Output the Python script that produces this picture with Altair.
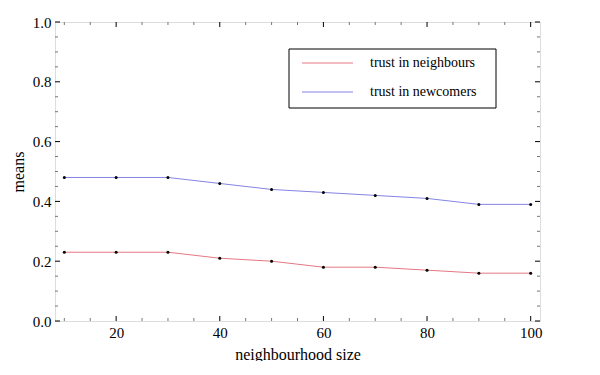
import altair as alt
import pandas as pd

# ---- data ----
sizes = [10, 20, 30, 40, 50, 60, 70, 80, 90, 100]
neighbours = [0.23, 0.23, 0.23, 0.21, 0.20, 0.18, 0.18, 0.17, 0.16, 0.16]
newcomers = [0.48, 0.48, 0.48, 0.46, 0.44, 0.43, 0.42, 0.41, 0.39, 0.39]
series_names = ["trust in neighbours", "trust in newcomers"]
series_colors = ["#e47884", "#8484e4"]

x_major = [20, 40, 60, 80, 100]
x_minor = [10, 15, 25, 30, 35, 45, 50, 55, 65, 70, 75, 85, 90, 95]
y_major = [0.0, 0.2, 0.4, 0.6, 0.8, 1.0]
y_minor = [0.05, 0.1, 0.15, 0.25, 0.3, 0.35, 0.45, 0.5, 0.55,
           0.65, 0.7, 0.75, 0.85, 0.9, 0.95]
x_domain = [8.2, 101.8]
y_domain = [0.0, 1.0]

FONT = "Liberation Serif"
W, H = 485, 299

df = pd.DataFrame({
    "size": sizes * 2,
    "value": neighbours + newcomers,
    "series": [series_names[0]] * len(sizes) + [series_names[1]] * len(sizes),
})

xs = alt.Scale(domain=x_domain, nice=False, zero=False)
ys = alt.Scale(domain=y_domain, nice=False, zero=False)

x_axis = alt.Axis(values=x_major, ticks=False, domain=False, grid=False,
                  labelFont=FONT, labelFontSize=15, labelColor="black",
                  labelPadding=4, title="neighbourhood size", titleFont=FONT,
                  titleFontSize=16, titleFontWeight="normal", titleColor="black",
                  titlePadding=6)
y_axis = alt.Axis(values=y_major, format=".1f", ticks=False, domain=False, grid=False,
                  labelFont=FONT, labelFontSize=15, labelColor="black",
                  labelPadding=4, title="means", titleFont=FONT,
                  titleFontSize=16, titleFontWeight="normal", titleColor="black",
                  titlePadding=6)

lines = alt.Chart(df).mark_line(strokeWidth=1).encode(
    x=alt.X("size:Q", scale=xs, axis=x_axis),
    y=alt.Y("value:Q", scale=ys, axis=y_axis),
    color=alt.Color("series:N", scale=alt.Scale(domain=series_names, range=series_colors), legend=None),
    detail="series:N",
)
points = alt.Chart(df).mark_circle(size=9, color="black", opacity=1).encode(
    x=alt.X("size:Q", scale=xs, axis=x_axis),
    y=alt.Y("value:Q", scale=ys, axis=y_axis),
)

layers = [lines, points]

def xticks(vals, length, color):
    d = pd.DataFrame({"size": vals})
    bottom = alt.Chart(d).mark_rule(color=color, strokeWidth=1).encode(
        x=alt.X("size:Q", scale=xs, axis=x_axis), y=alt.value(H), y2=alt.value(H - length))
    top = alt.Chart(d).mark_rule(color=color, strokeWidth=1).encode(
        x=alt.X("size:Q", scale=xs, axis=x_axis), y=alt.value(0), y2=alt.value(length))
    return [bottom, top]

def yticks(vals, length, color):
    d = pd.DataFrame({"value": vals})
    left = alt.Chart(d).mark_rule(color=color, strokeWidth=1).encode(
        y=alt.Y("value:Q", scale=ys, axis=y_axis), x=alt.value(0), x2=alt.value(length))
    right = alt.Chart(d).mark_rule(color=color, strokeWidth=1).encode(
        y=alt.Y("value:Q", scale=ys, axis=y_axis), x=alt.value(W), x2=alt.value(W - length))
    return [left, right]

layers += xticks(x_major, 5, "black") + xticks(x_minor, 3, "#777777")
layers += yticks(y_major, 5, "black") + yticks(y_minor, 3, "#777777")

# ---- legend box ----
one = pd.DataFrame({"a": [0]})
layers.append(alt.Chart(one).mark_rect(fill="white", stroke="black", strokeWidth=1).encode(
    x=alt.value(234), x2=alt.value(441), y=alt.value(27), y2=alt.value(86)))
row_y = [41, 70]
for name, col, ry in zip(series_names, series_colors, row_y):
    ld = pd.DataFrame({"series": [name]})
    layers.append(alt.Chart(ld).mark_rule(color=col, strokeWidth=1).encode(
        x=alt.value(247), x2=alt.value(298), y=alt.value(ry)))
    layers.append(alt.Chart(ld).mark_text(align="left", baseline="middle", font=FONT,
                                          fontSize=14, color="black").encode(
        x=alt.value(315), y=alt.value(ry), text="series:N"))

chart = alt.layer(*layers).properties(
    width=W, height=H,
    autosize=alt.AutoSizeParams(type="none"),
    padding={"left": 47, "top": 14, "right": 40, "bottom": 40},
).configure_view(stroke="black", strokeWidth=1).configure(background="white")

chart.save("out.html", embed_options={"renderer": "svg", "actions": False})
